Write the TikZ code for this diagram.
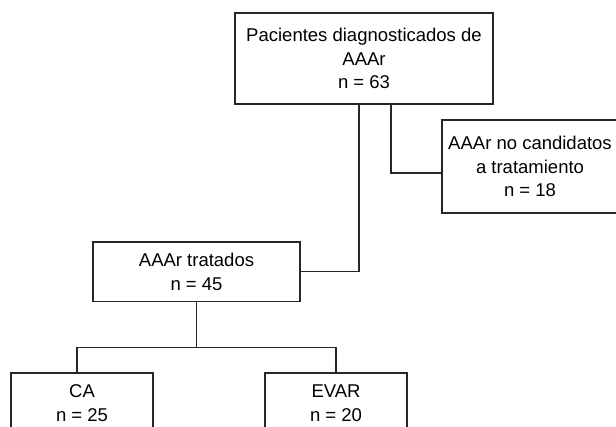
\documentclass[tikz,border=0pt]{standalone}
\usepackage{fontspec}
\setmainfont{Liberation Sans}
\usetikzlibrary{positioning,calc}
\tikzset{
  boxnode/.style={draw=black!85, line width=1.2pt, fill=white, align=center,
                  font=\fontsize{18.5}{23.5}\selectfont, inner sep=0pt},
  linkline/.style={draw=black!85, line width=1.2pt},
}
\begin{document}
\begin{tikzpicture}[x=1pt,y=-1pt]
  \useasboundingbox (0,0) rectangle (616,427);
  \clip (0,0) rectangle (616,427);
  % patient flow, one box per group
  \node[boxnode, minimum width=258pt, minimum height=91pt] (diag) at (364,58.5)
    {Pacientes diagnosticados de\\AAAr\\n = 63};
  \node[boxnode, minimum width=176pt, minimum height=93pt] (nocand) at (530,166.5)
    {AAAr no candidatos\\a tratamiento\\n = 18};
  \node[boxnode, minimum width=207pt, minimum height=59.5pt] (treated) at (196.5,271.75)
    {AAAr tratados\\n = 45};
  \node[boxnode, minimum width=142pt, minimum height=60pt] (ca) at (82,403)
    {CA\\n = 25};
  \node[boxnode, minimum width=142pt, minimum height=60pt] (evar) at (336,403)
    {EVAR\\n = 20};
  % elbow connectors
  \draw[linkline] ($(diag.south)+(-5,0)$) |- (treated.east);
  \draw[linkline] ($(diag.south)+(27,0)$) |- ($(nocand.west)+(0,6.5)$);
  \coordinate (split) at ($(treated.south)+(0,45.5)$);
  \draw[linkline] (treated.south) -- (split);
  \draw[linkline] ($(ca.north)+(-5,0)$) |- (split) -| (evar.north);
\end{tikzpicture}
\end{document}
